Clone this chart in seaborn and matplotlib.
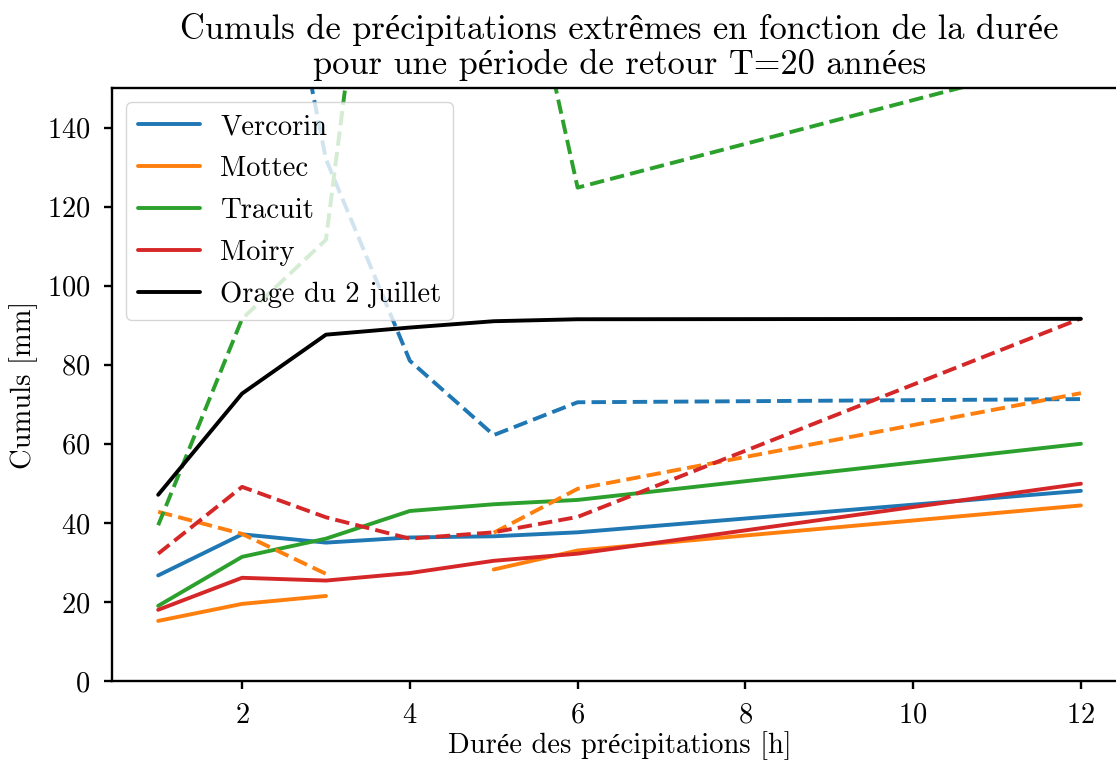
import numpy as np
import pandas as pd
import seaborn as sns
import matplotlib
matplotlib.use("Agg")
import matplotlib.pyplot as plt

# Durations (hours) at which the return levels were evaluated
durations = [1, 2, 3, 4, 5, 6, 12]

# 20-year return levels [mm] -- first estimate (solid lines)
vercorin = [26.7, 37.1, 35.0, 36.3, 36.6, 37.6, 48.1]
mottec = [15.2, 19.5, 21.5, np.nan, 28.2, 33.0, 44.4]
tracuit = [19.0, 31.4, 36.0, 43.0, 44.7, 45.8, 60.0]
moiry = [18.0, 26.1, 25.4, 27.3, 30.4, 32.2, 49.9]

# 20-year return levels [mm] -- second estimate (dashed lines)
vercorin_b = [215.0, 239.0, 132.0, 81.0, 62.2, 70.5, 71.3]
mottec_b = [42.8, 37.2, 27.1, np.nan, 37.5, 48.6, 72.8]
tracuit_b = [39.4, 91.6, 111.6, 279.0, 221.0, 124.8, 158.0]
moiry_b = [32.2, 49.1, 41.4, 36.0, 37.6, 41.5, 91.7]

# Storm of 2 July: maximum cumulative rainfall per duration [mm]
orage = [47.1, 72.7, 87.6, 89.4, 91.0, 91.5, 91.6]

stations = ["Vercorin", "Mottec", "Tracuit", "Moiry"]
solid_series = [vercorin, mottec, tracuit, moiry]
dashed_series = [vercorin_b, mottec_b, tracuit_b, moiry_b]
palette = ["#1f77b4", "#ff7f0e", "#2ca02c", "#d62728"]

title = "Cumuls de précipitations extrêmes en fonction de la durée\npour une période de retour T=20 années"
xlabel = "Durée des précipitations [h]"
ylabel = "Cumuls [mm]"

sns.set_style("ticks")
plt.rcParams.update({
    "font.family": ["cmr10", "Liberation Serif"],
    "font.size": 20.5,
    "axes.formatter.use_mathtext": True,
    "axes.edgecolor": "black",
    "axes.labelcolor": "black",
    "text.color": "black",
    "xtick.color": "black",
    "ytick.color": "black",
    "axes.linewidth": 1.7,
    "xtick.major.width": 1.7,
    "ytick.major.width": 1.7,
    "xtick.major.size": 5.8,
    "ytick.major.size": 5.8,
    "xtick.major.pad": 9.5,
    "ytick.major.pad": 10,
    "xtick.labelsize": 20.5,
    "ytick.labelsize": 20.5,
    "axes.labelsize": 20.5,
    "legend.fontsize": 20.6,
})

fig = plt.figure(figsize=(11.16, 7.63), dpi=100)
ax = fig.add_axes([0.1004, 0.1075, 0.9095, 0.7772])

LW = 2.8


def draw(values, color, dashed, label=None):
    """Draw one series, splitting it where values are missing."""
    df = pd.DataFrame({"duree": durations, "cumul": values})
    df["segment"] = df["cumul"].isna().cumsum()
    df = df.dropna()
    first = True
    for _, part in df.groupby("segment"):
        sns.lineplot(data=part, x="duree", y="cumul", ax=ax, color=color,
                     linewidth=LW, linestyle="--" if dashed else "-",
                     label=label if first else None, estimator=None,
                     sort=False, legend=False)
        first = False


for name, vals, col in zip(stations, solid_series, palette):
    draw(vals, col, False, name)
for vals, col in zip(dashed_series, palette):
    draw(vals, col, True)
draw(orage, "black", False, "Orage du 2 juillet")

ax.set_xlim(0.45, 12.55)
ax.set_ylim(0, 150)
ax.set_xticks([2, 4, 6, 8, 10, 12])
ax.set_yticks(np.arange(0, 141, 20))
ax.set_xlabel(xlabel, labelpad=2)
ax.set_ylabel(ylabel, labelpad=6)
ax.set_title(title, fontsize=24.8, pad=10, linespacing=1.1)

handles, labels = ax.get_legend_handles_labels()
ax.legend(handles, labels, loc="upper left", framealpha=0.8,
          handlelength=2.17, handletextpad=0.72, labelspacing=0.55)

fig.savefig("out.png", dpi=100)
